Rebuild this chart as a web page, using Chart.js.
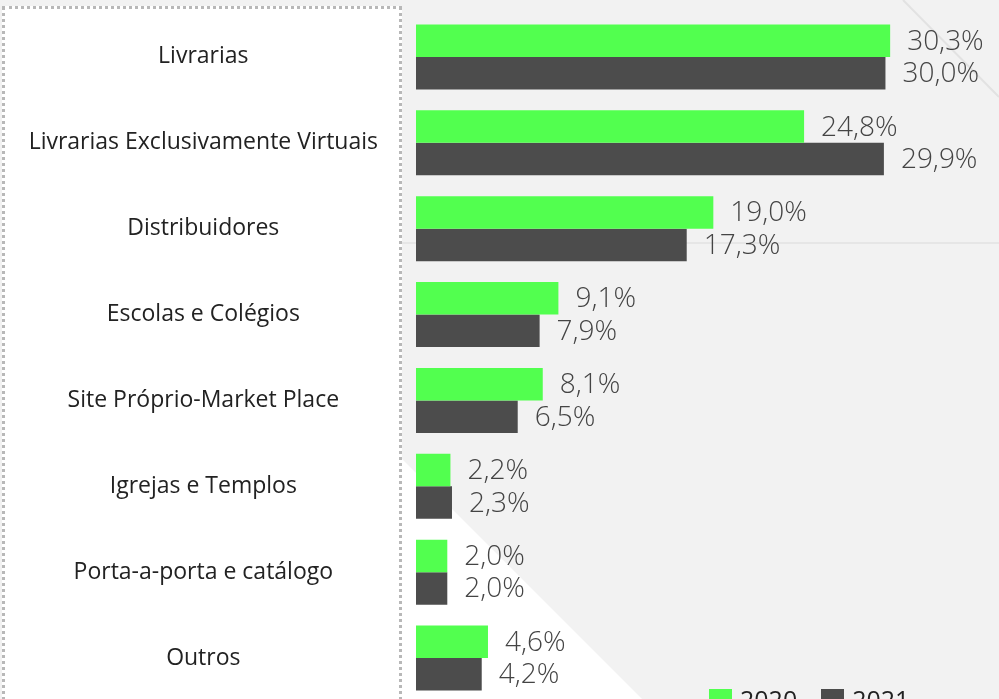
<!DOCTYPE html>
<html lang="pt">
<head>
<meta charset="UTF-8">
<title>Canais de venda 2020 x 2021</title>
<script src="https://cdn.jsdelivr.net/npm/chart.js"></script>
<style>
    html, body {
        margin: 0;
        padding: 0;
        width: 999px;
        height: 699px;
        overflow: hidden;
        background: #f2f2f2;
        font-family: "Open Sans", sans-serif;
    }
    .bg-line-h {
        position: absolute; left: 400px; top: 242px; width: 599px; height: 2px;
        background: #e6e6e6;
    }
    .bg-tri {
        position: absolute; left: 0; top: 0; width: 999px; height: 699px;
        background: #ffffff;
        clip-path: polygon(400px 457px, 642px 699px, 400px 699px);
    }
    .panel {
        position: absolute; left: 2px; top: 6px; width: 394px; height: 720px;
        background: #ffffff;
        border: 3px dotted #b8b8b8;
    }
    .wrap {
        position: absolute; left: 0; top: 0; width: 999px; height: 702px;
    }
    .legend {
        position: absolute; top: 682px; left: 709px;
        font-size: 25px; color: #222; white-space: nowrap;
    }
    .legend span.box {
        display: inline-block; width: 23px; height: 23px; vertical-align: -3px; margin-right: 8px;
    }
    .legend span.item { margin-right: 24px; }
</style>
</head>
<body>
<div class="bg-line-h"></div>
<svg style="position:absolute;left:0;top:0" width="999" height="699">
    <line x1="903" y1="0" x2="999" y2="97" stroke="#e2e2e2" stroke-width="2"/>
</svg>
<div class="bg-tri"></div>
<div class="panel"></div>
<div class="wrap"><canvas id="chart"></canvas></div>
<div class="legend" id="legend"></div>

<script>
// dados
var categorias = [
    "Livrarias",
    "Livrarias Exclusivamente Virtuais",
    "Distribuidores",
    "Escolas e Colégios",
    "Site Próprio-Market Place",
    "Igrejas e Templos",
    "Porta-a-porta e catálogo",
    "Outros"
];
var valores2020 = [30.3, 24.8, 19.0, 9.1, 8.1, 2.2, 2.0, 4.6];
var valores2021 = [30.0, 29.9, 17.3, 7.9, 6.5, 2.3, 2.0, 4.2];
var anos = ["2020", "2021"];
var cores = ["#52ff4f", "#4c4c4c"];

function fmt(v) {
    return v.toFixed(1).replace(".", ",") + "%";
}

// rotulos de valor ao lado das barras
var valueLabels = {
    id: "valueLabels",
    afterDatasetsDraw: function (chart) {
        var ctx = chart.ctx;
        ctx.save();
        ctx.font = "300 28px 'Open Sans', sans-serif";
        ctx.fillStyle = "#444444";
        ctx.textAlign = "left";
        ctx.textBaseline = "middle";
        chart.data.datasets.forEach(function (ds, i) {
            chart.getDatasetMeta(i).data.forEach(function (bar, j) {
                ctx.fillText(fmt(ds.data[j]), bar.x + 17, bar.y + 1);
            });
        });
        ctx.restore();
    }
};

var ctx = document.getElementById("chart").getContext("2d");
var chart = new Chart(ctx, {
    type: "bar",
    data: {
        labels: categorias,
        datasets: [
            { label: anos[0], data: valores2020, backgroundColor: cores[0] },
            { label: anos[1], data: valores2021, backgroundColor: cores[1] }
        ]
    },
    options: {
        indexAxis: "y",
        responsive: true,
        maintainAspectRatio: false,
        animation: false,
        categoryPercentage: 0.757,
        barPercentage: 1.0,
        layout: { padding: { top: 14, bottom: 1, right: 4, left: 0 } },
        plugins: {
            legend: { display: false },
            tooltip: { enabled: false }
        },
        scales: {
            x: {
                display: false,
                min: 0,
                max: 37
            },
            y: {
                grid: { display: false, drawTicks: false },
                border: { display: false },
                ticks: {
                    color: "#222222",
                    font: { family: "'Open Sans', sans-serif", size: 23 },
                    crossAlign: "center",
                    padding: 38
                },
                afterFit: function (scale) {
                    scale.width = 416;
                    scale.paddingTop = 0;
                    scale.paddingBottom = 0;
                }
            }
        }
    },
    plugins: [valueLabels]
});

// legenda
var leg = document.getElementById("legend");
anos.forEach(function (a, i) {
    var item = document.createElement("span");
    item.className = "item";
    item.innerHTML = '<span class="box" style="background:' + cores[i] + '"></span>' + a;
    leg.appendChild(item);
});
</script>
</body>
</html>
